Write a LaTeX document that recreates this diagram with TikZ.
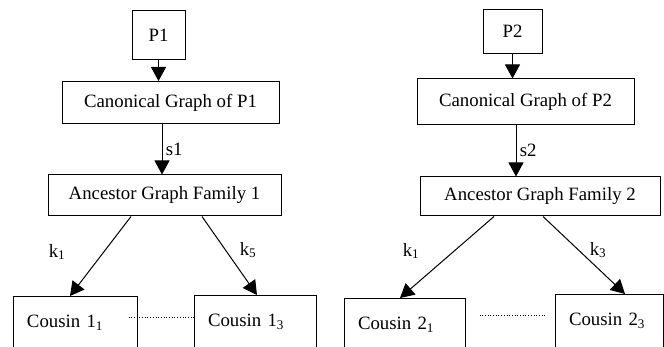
\documentclass[tikz,border=0pt]{standalone}
\usepackage{fontspec}
\setmainfont{Liberation Serif}
\usepackage{tikz}
\usetikzlibrary{arrows.meta}
\tikzstyle{box}=[draw,rectangle,inner sep=0pt,line width=1pt]
\tikzstyle{cousin}=[box,anchor=north,align=left,inner xsep=14pt,inner ysep=4pt,text height=27pt,text depth=40pt]
\tikzstyle{arr}=[line width=1pt,-{Triangle[length=14pt,width=15pt]}]
\tikzstyle{dots}=[dotted,line width=0.7pt]

\begin{document}
\begin{tikzpicture}[x=1pt,y=-1pt,font=\fontsize{18.8}{22}\selectfont]
          \useasboundingbox (0,0) rectangle (664,347);
          \clip (0,0) rectangle (664,347);
          % first family
          \node[box,minimum width=53pt,minimum height=49pt] (P1) at (158.5,35.5) {P1};
          \node[box,minimum width=217pt,minimum height=42.5pt] (C1) at (170.5,102.75) {Canonical Graph of P1};
          \node[box,minimum width=233pt,minimum height=41pt] (A1) at (164.5,195.5) {Ancestor Graph Family 1};
          \node[cousin,text width=96pt] (c11) at (75,296) {Cousin 1\textsubscript{1}};
          \node[cousin,text width=94pt] (c13) at (255,295) {Cousin 1\textsubscript{3}};
          % second family
          \node[box,minimum width=59pt,minimum height=43.5pt] (P2) at (512.5,31.75) {P2};
          \node[box,minimum width=217pt,minimum height=45.5pt] (C2) at (525.5,101.75) {Canonical Graph of P2};
          \node[box,minimum width=240pt,minimum height=39pt] (A2) at (540,196.5) {Ancestor Graph Family 2};
          \node[cousin,text width=93pt] (c21) at (404.5,298) {Cousin 2\textsubscript{1}};
          \node[cousin,text width=80pt] (c23) at (609,294) {Cousin 2\textsubscript{3}};
          % labels
          \node (k11) at (57,252) {k\textsubscript{1}};
          \node (k15) at (248,250) {k\textsubscript{5}};
          \node (k21) at (411,251) {k\textsubscript{1}};
          \node (k23) at (598,250) {k\textsubscript{3}};
          \path
            (P1.south) edge[arr] (P1.south |- C1.north)
            ([xshift=-8.5pt]C1.south) edge[arr] node[right] (s1) {s1} ([xshift=-8.5pt]C1.south |- A1.north)
            ([xshift=-33.5pt]A1.south) edge[arr] ([xshift=-5pt]c11.north)
            ([xshift=37.5pt]A1.south) edge[arr] ([xshift=2pt]c13.north)
            (P2.south) edge[arr] (P2.south |- C2.north)
            ([xshift=-9.5pt]C2.south) edge[arr] node[right] (s2) {s2} ([xshift=-9.5pt]C2.south |- A2.north)
            ([xshift=-46pt]A2.south) edge[arr] ([xshift=-4.5pt]c21.north)
            ([xshift=3pt]A2.south) edge[arr] ([xshift=16pt]c23.north);
          \draw[dots] ([xshift=-9pt,yshift=-21pt]c11.north east) -- ([yshift=-21pt]c11.north east -| c13.west);
          \draw[dots] ([xshift=14pt,yshift=-17pt]c21.north east) -- ([xshift=-10pt,yshift=-17pt]c21.north east -| c23.west);
        \end{tikzpicture}
\end{document}
